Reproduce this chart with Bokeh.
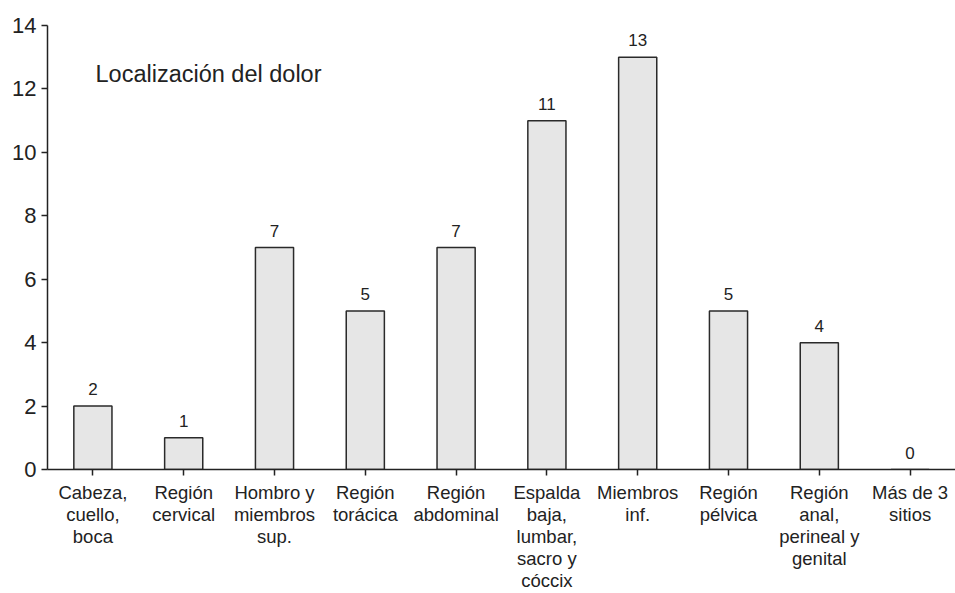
from bokeh.plotting import figure
from bokeh.models import ColumnDataSource, FactorRange, Range1d, Label, FixedTicker
from bokeh.core.properties import value
from bokeh.embed import file_html
from bokeh.resources import INLINE

# Pain location counts
categories = [
    "Cabeza,\ncuello,\nboca",
    "Región\ncervical",
    "Hombro y\nmiembros\nsup.",
    "Región\ntorácica",
    "Región\nabdominal",
    "Espalda\nbaja,\nlumbar,\nsacro y\ncóccix",
    "Miembros\ninf.",
    "Región\npélvica",
    "Región\nanal,\nperineal y\ngenital",
    "Más de 3\nsitios",
]
counts = [2, 1, 7, 5, 7, 11, 13, 5, 4, 0]
y_ticks = [0, 2, 4, 6, 8, 10, 12, 14]
title_text = "Localización del dolor"

FONT = "Liberation Sans"
INK = "#222222"

source = ColumnDataSource(data=dict(cat=categories, n=counts,
                                    lbl=[str(c) for c in counts]))

p = figure(
    width=955, height=593,
    x_range=FactorRange(*categories, range_padding=0),
    y_range=Range1d(0, 14),
    output_backend="svg", toolbar_location=None,
    min_border_left=47, min_border_right=0,
    min_border_top=25, min_border_bottom=124,
)
p.outline_line_color = None
p.xgrid.grid_line_color = None
p.ygrid.grid_line_color = None
p.background_fill_color = "white"
p.border_fill_color = "white"

p.vbar(x="cat", top="n", width=0.42, bottom=0, source=source,
       fill_color="#e6e6e6", line_color="#2a2a2a", line_width=1.5)

p.text(x="cat", y="n", text="lbl", source=source,
       text_font=value(FONT), text_font_size="17px", text_color=INK,
       text_align="center", text_baseline="bottom", y_offset=-11)

# Axes
p.yaxis.ticker = FixedTicker(ticks=y_ticks)
p.yaxis.minor_tick_line_color = None
p.yaxis.major_tick_in = 0
p.yaxis.major_tick_out = 6
p.yaxis.axis_line_color = INK
p.yaxis.major_tick_line_color = INK
p.yaxis.axis_line_width = 1.5
p.yaxis.major_tick_line_width = 1.5
p.yaxis.major_label_text_font = FONT
p.yaxis.major_label_text_font_size = "22px"
p.yaxis.major_label_text_color = INK
p.yaxis.major_label_standoff = 5

p.xaxis.major_tick_in = 0
p.xaxis.major_tick_out = 6
p.xaxis.axis_line_color = INK
p.xaxis.major_tick_line_color = INK
p.xaxis.axis_line_width = 1.5
p.xaxis.major_tick_line_width = 1.5
p.xaxis.major_label_text_font = FONT
p.xaxis.major_label_text_font_size = "18.5px"
p.xaxis.major_label_text_line_height = 1.05
p.xaxis.major_label_text_color = INK
p.xaxis.major_label_standoff = 6
p.xaxis.major_label_orientation = "horizontal"

p.add_layout(Label(x=48, y=396, x_units="screen", y_units="screen",
                   text=title_text, text_font=FONT, text_font_size="23.5px",
                   text_color=INK, text_baseline="alphabetic"))

open("out.html", "w").write(file_html(p, INLINE))
